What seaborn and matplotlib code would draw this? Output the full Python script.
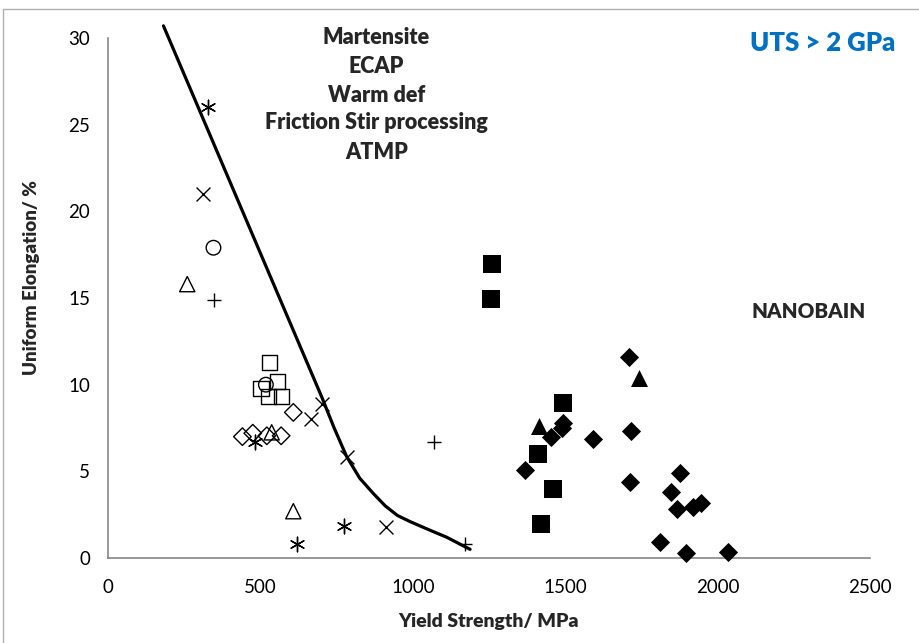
import pandas as pd
import numpy as np
import seaborn as sns
import matplotlib.pyplot as plt
from matplotlib.lines import Line2D

# ---------------- data ----------------
# open symbols (conventional processes)
sq_open_x = [529, 555, 502, 526, 570]
sq_open_y = [11.3, 10.2, 9.8, 9.3, 9.3]
circ_x = [346, 518]
circ_y = [17.9, 10.0]
tri_open_x = [260, 537, 608]
tri_open_y = [15.8, 7.25, 2.7]
plus_x = [348, 1071, 1171]
plus_y = [14.9, 6.7, 0.8]
cross_x = [311, 701, 666, 783, 912]
cross_y = [21.0, 8.9, 8.0, 5.85, 1.77]
star_x = [328, 482, 774, 621]
star_y = [26.0, 6.7, 1.86, 0.8]
dia_open_x = [441, 475, 521, 568, 608]
dia_open_y = [7.0, 7.2, 7.05, 7.05, 8.4]

# filled symbols (nanobainite)
sq_fill_x = [1261, 1256, 1492, 1410, 1461, 1421]
sq_fill_y = [16.96, 14.94, 8.96, 5.98, 3.96, 1.96]
tri_fill_x = [1743, 1415]
tri_fill_y = [10.4, 7.6]
dia_fill_x = [1710, 1494, 1488, 1453, 1592, 1716, 1368, 1713,
              1878, 1846, 1866, 1920, 1946, 1811, 1896, 2033]
dia_fill_y = [11.6, 7.8, 7.5, 6.96, 6.87, 7.33, 5.08, 4.4,
              4.92, 3.83, 2.83, 2.96, 3.15, 0.9, 0.27, 0.33]

# boundary curve
curve_x = [182, 650, 701, 742, 783, 826, 870, 910, 950, 991, 1050, 1111, 1188]
curve_y = [30.7, 11.4, 9.3, 7.5, 5.85, 4.6, 3.73, 3.0, 2.45, 2.1, 1.65, 1.2, 0.5]

annot_lines = ['Martensite', 'ECAP', 'Warm def', 'Friction Stir processing', 'ATMP']
annot_y = [30.0, 28.35, 26.7, 25.1, 23.4]

# ---------------- plot ----------------
sns.set_theme(style='white')
plt.rcParams['font.family'] = ['Lato', 'DejaVu Sans']

fig = plt.figure(figsize=(9.19, 6.43), dpi=100)
ax = fig.add_axes([108 / 919, 85 / 643, 762 / 919, 520 / 643])

sns.lineplot(x=curve_x, y=curve_y, sort=False, color='black', linewidth=2.3,
             ax=ax, clip_on=False, zorder=3)

open_kw = dict(facecolor='none', edgecolor='black', linewidth=1.0, clip_on=False, zorder=4)
sns.scatterplot(x=sq_open_x, y=sq_open_y, marker='s', s=120, ax=ax, **open_kw)
sns.scatterplot(x=circ_x, y=circ_y, marker='o', s=110, ax=ax, **open_kw)
sns.scatterplot(x=tri_open_x, y=tri_open_y, marker='^', s=120, ax=ax, **open_kw)
sns.scatterplot(x=dia_open_x, y=dia_open_y, marker='D', s=80, ax=ax, **open_kw)

line_kw = dict(color='black', linewidth=1.0, clip_on=False, zorder=4)
sns.scatterplot(x=plus_x, y=plus_y, marker='+', s=110, ax=ax, **line_kw)
sns.scatterplot(x=cross_x, y=cross_y, marker='x', s=100, ax=ax, **line_kw)
sns.scatterplot(x=star_x, y=star_y, marker=(6, 2, 0), s=110, ax=ax, **line_kw)

fill_kw = dict(color='black', edgecolor='black', linewidth=0, clip_on=False, zorder=4)
sns.scatterplot(x=sq_fill_x, y=sq_fill_y, marker='s', s=150, ax=ax, **fill_kw)
sns.scatterplot(x=tri_fill_x, y=tri_fill_y, marker='^', s=150, ax=ax, **fill_kw)
sns.scatterplot(x=dia_fill_x, y=dia_fill_y, marker='D', s=95, ax=ax, **fill_kw)

ax.set_xlim(0, 2500)
ax.set_ylim(0, 30)
ax.set_xticks(range(0, 2501, 500))
ax.set_yticks(range(0, 31, 5))

grey = '#868686'
for side in ['top', 'right']:
    ax.spines[side].set_visible(False)
for side in ['left', 'bottom']:
    ax.spines[side].set_color(grey)
    ax.spines[side].set_linewidth(1.2)
ax.tick_params(axis='both', which='major', direction='out', length=5, width=1.2,
               color=grey, labelsize=13.5, labelcolor='black')
ax.tick_params(axis='x', pad=10)
ax.tick_params(axis='y', pad=8)
ax.set_xlabel('')
ax.set_ylabel('')

fig.text(489 / 919, 1 - 622 / 643, 'Yield Strength/ MPa', ha='center', va='center',
         fontsize=14, fontweight='heavy')
fig.text(32 / 919, 1 - 278 / 643, 'Uniform Elongation/ %', ha='center', va='center',
         rotation=90, fontsize=13.5, fontweight='heavy')

for txt, yy in zip(annot_lines, annot_y):
    ax.text(880, yy, txt, ha='center', va='center', fontsize=15.5, fontweight='heavy')
ax.text(2346, 29.7, 'UTS > 2 GPa', ha='center', va='center', fontsize=18.5,
        fontweight='heavy', color='#0070C0')
ax.text(2297, 14.2, 'NANOBAIN', ha='center', va='center', fontsize=14.8, fontweight='heavy')

# chart area frame
fig.add_artist(Line2D([3 / 919, 3 / 919], [0, 1 - 9 / 643], color='#b0b0b0', lw=1))
fig.add_artist(Line2D([3 / 919, 1], [1 - 9 / 643, 1 - 9 / 643], color='#b0b0b0', lw=1))

fig.savefig('out.png', dpi=100)
